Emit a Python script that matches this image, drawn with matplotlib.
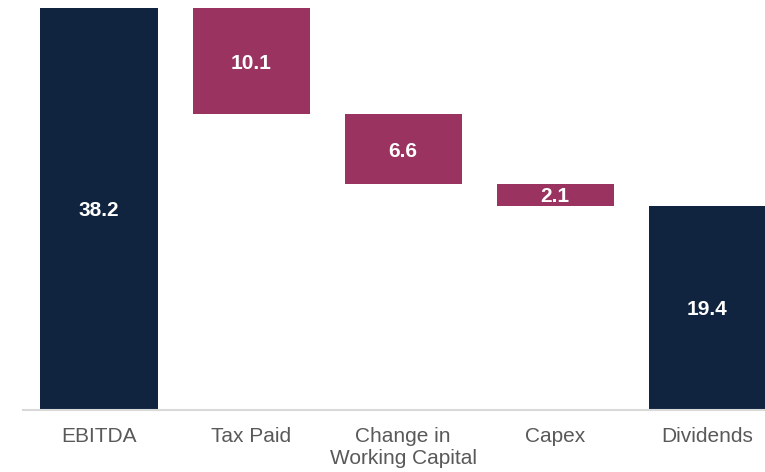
import matplotlib
matplotlib.use("Agg")
import matplotlib.pyplot as plt

# waterfall data
categories = ["EBITDA", "Tax Paid", "Change in\nWorking Capital", "Capex", "Dividends"]
values = [38.2, -10.1, -6.6, -2.1, 19.4]
is_total = [True, False, False, False, True]

navy = "#10243f"
maroon = "#9b3361"

plt.rcParams['font.family'] = ['Liberation Sans', 'DejaVu Sans']

fig = plt.figure(figsize=(7.65, 4.72), dpi=100)
ax = fig.add_axes([23 / 765, 62 / 472, 742 / 765, 410 / 472])

running = 0
for i, (v, tot) in enumerate(zip(values, is_total)):
    if tot:
        bottom, height = 0, v
        running = v
        color = navy
    else:
        bottom, height = running + v, -v
        running = running + v
        color = maroon
    ax.bar(i, height, bottom=bottom, width=0.77, color=color)
    ax.text(i, bottom + height / 2, "%.1f" % abs(v), ha="center", va="center_baseline",
            color="white", fontsize=15, fontweight="bold")

ax.set_xlim(-0.5, 4.38)
ax.set_ylim(0, 38.96)
ax.set_xticks(range(len(categories)))
ax.set_xticklabels(categories, fontsize=15, color="#595959")
ax.tick_params(axis="x", length=0, pad=12.5)
ax.set_yticks([])
for s in ["top", "right", "left"]:
    ax.spines[s].set_visible(False)
ax.spines["bottom"].set_color("#d9d9d9")
ax.spines["bottom"].set_linewidth(1.5)

fig.savefig("out.png", dpi=100)
